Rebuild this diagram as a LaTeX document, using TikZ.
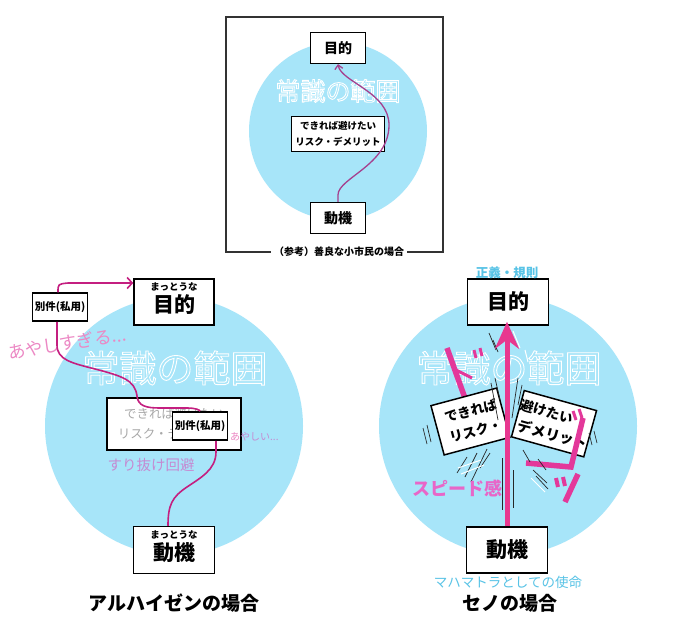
\documentclass[tikz,border=0pt]{standalone}
\usepackage{fontspec}
\setmainfont{Noto Sans CJK JP}
\usetikzlibrary{arrows.meta}
\definecolor{sky}{HTML}{A7E5F9}
\definecolor{framegray}{HTML}{333333}
\definecolor{purparrow}{HTML}{A5408E}
\definecolor{magline}{HTML}{C41F80}
\definecolor{hotpink}{HTML}{E8388F}
\definecolor{softpink}{HTML}{EC88C4}
\definecolor{lavender}{HTML}{C58AD2}
\definecolor{lightblue}{HTML}{58C3E6}
\definecolor{sfxpink}{HTML}{E3389A}
\definecolor{speedpink}{HTML}{E866C8}
\definecolor{fadegray}{HTML}{A8A8A8}
\newcommand{\hollowtxt}[1]{\special{pdf:literal direct 0.9 w 1 Tr}#1\special{pdf:literal direct 0 Tr}}
\tikzset{
  fnt/.style={font=\fontsize{#1}{#1}\selectfont},
  bfnt/.style={font=\bfseries\fontsize{#1}{#1}\selectfont},
  box/.style={draw=black, line width=1.5pt, fill=white, inner sep=0pt},
  scopetext/.style={text=white, inner sep=0pt, font=\fontsize{#1}{#1}\selectfont},
  toparrow/.style={draw=purparrow, line width=1.3pt, -{Straight Barb[length=4pt,width=8pt]}},
  magpath/.style={draw=magline, line width=1.6pt},
  sfx/.style={draw=sfxpink, line width=5.5pt},
  sfxthin/.style={draw=sfxpink, line width=3pt},
  speedb/.style={draw=black!85, line width=0.7pt},
  speedw/.style={draw=white, line width=1pt},
}
\begin{document}
\begin{tikzpicture}[x=1pt,y=-1pt]
\useasboundingbox (0,0) rectangle (680,632);
\fill[white] (0,0) rectangle (680,632);

% ---------- top panel ----------
\fill[sky] (338,131) circle[radius=89];
\node[scopetext=25] (tscope) at (338,91) {\hollowtxt{常識の範囲}};
\node[box, line width=1.2pt, minimum width=55, minimum height=31, bfnt=14] (tgoal) at (338,48) {目的};
\node[box, line width=1.2pt, minimum width=55, minimum height=31, bfnt=14] (tmot) at (338,218) {動機};
\node[box, line width=1.2pt, minimum width=93, minimum height=35, align=center, font=\bfseries\fontsize{9.5}{16}\selectfont] (trisk) at (338,134) {できれば避けたい\\リスク・デメリット};
\draw[toparrow] (tmot.north) -- ++(0,-7) .. controls (338,178) and (389,165) .. (389,125) .. controls (389,92) and (341,82) .. (tgoal.south);
\node[bfnt=10, inner sep=3pt] (tcap) at (339,252) {（参考）善良な小市民の場合};
\draw[framegray, line width=1.3pt] (tcap.west) -- (226,252) -- (226,17) -- (443,17) -- (443,252) -- (tcap.east);

% ---------- left panel ----------
\fill[sky] (174,426) circle[radius=129];
\node[scopetext=37] (lscope) at (175,368) {\hollowtxt{常識の範囲}};
\node[text=softpink, fnt=17.5, rotate=9, inner sep=0pt] (lsus) at (67,343) {あやしすぎる...};
\node[box, line width=1.6pt, minimum width=134, minimum height=52, text=fadegray, align=center, font=\fontsize{12.5}{20}\selectfont] (lrisk) at (174,424) {できれば避けたい\\リスク・デメリット};
\node[box, minimum width=80, minimum height=46] (lgoal) at (174,302) {};
\node[bfnt=9.5, inner sep=0pt] (lgoalr) at (174,287) {まっとうな};
\node[bfnt=21, inner sep=0pt] (lgoalt) at (174,305) {目的};
\node[box, minimum width=55, minimum height=28, bfnt=10.5] (lside1) at (60,307) {別件(私用)};
\node[box, minimum width=55, minimum height=28, bfnt=10.5] (lside2) at (200,426) {別件(私用)};
\node[box, minimum width=81, minimum height=47] (lmot) at (174,550) {};
\node[bfnt=9.5, inner sep=0pt] (lmotr) at (174,535) {まっとうな};
\node[bfnt=21, inner sep=0pt] (lmott) at (174,553) {動機};
\draw[magpath, -{Straight Barb[length=5pt,width=11pt]}] ([xshift=-2pt]lside1.north) .. controls (58,284) .. (68,283) -- (lgoal.west |- 0,283);
\draw[magpath] ([xshift=-3pt]lside1.south) -- (57,345) .. controls (57,360) and (72,363) .. (95,369) .. controls (122,376) and (135,380) .. (137,396) .. controls (138,406) and (146,408) .. (160,408) -- (187,408) .. controls (196,408) and (200,410) .. (lside2.north);
\draw[magpath] ([xshift=16pt]lside2.south) -- (216,452) .. controls (216,470) and (200,478) .. (187,487) .. controls (172,497) and (168,505) .. (lmot.north -| 168,0);
\node[text=lavender, fnt=14.5] (lslip) at (151,465) {すり抜け回避};
\node[anchor=west, fnt=10, inner sep=0pt] (lsus2) at (230,437) {\textcolor{softpink}{あ}\textcolor{lavender}{やしい...}};
\node[bfnt=19] (ltitle) at (174,603) {アルハイゼンの場合};

% ---------- right panel ----------
\fill[sky] (508,426) circle[radius=129];
\node[scopetext=37] (rscope) at (509,368) {\hollowtxt{常識の範囲}};
% "ド"
\draw[sfx] (447,348) -- (466,401);
\draw[sfxthin] (456,370) -- (472,378);
\draw[sfxthin] (474,350) -- (476,358);
\draw[sfxthin] (480,348) -- (482,356);
% broken risk box, left piece
\node[box, rotate=15, minimum width=68, minimum height=51] (rriskL) at (470.4,421.5) {};
\begin{scope}
  \clip (rriskL.north west) -- (rriskL.north east) -- (rriskL.south east) -- (rriskL.south west) -- cycle;
  \node[rotate=15, inner sep=0pt, align=left, text width=54, font=\bfseries\fontsize{13.3}{21}\selectfont] (rriskLt) at (474,420.6) {できれば\\リスク・};
\end{scope}
% broken risk box, right piece
\node[box, rotate=-15.5, minimum width=75, minimum height=48] (rriskR) at (554,423.7) {};
\begin{scope}
  \clip (rriskR.north west) -- (rriskR.north east) -- (rriskR.south east) -- (rriskR.south west) -- cycle;
  \node[rotate=-15.5, inner sep=0pt, bfnt=13.5] (rriskRa) at (547,411.4) {避けたい};
  \node[rotate=-15.5, inner sep=0pt, bfnt=14.4] (rriskRb) at (552.6,434.7) {デメリット};
\end{scope}
% "ゴ"
\draw[sfx, line join=miter] (583,418) -- (571,467) -- (526,463);
\draw[sfxthin] (573,411) -- (576,420);
\draw[sfxthin] (579,409) -- (582,418);
% "ッ"
\draw[sfxthin, line width=4pt] (556,478) -- (558,487);
\draw[sfxthin, line width=4pt] (563,477) -- (565,486);
\draw[sfx] (578,474) -- (565,502);
% speed lines
\draw[speedb] (489,333) -- (496,350);
\draw[speedb] (493,340) -- (498,352);
\draw[speedb] (491,383) -- (498,420);
\draw[speedb] (495,378) -- (500,400);
\draw[speedb] (518,378) -- (512,418);
\draw[speedb] (522,385) -- (518,405);
\draw[speedb] (427,425) -- (431,442);
\draw[speedb] (423,428) -- (427,444);
\draw[speedb] (589,433) -- (592,445);
\draw[speedb] (594,431) -- (597,443);
\draw[speedb] (457,473) -- (467,457);
\draw[speedb] (465,477) -- (477,453);
\draw[speedb] (471,482) -- (487,449);
\draw[speedb] (480,468) -- (490,453);
\draw[speedb] (523,450) -- (530,462);
\draw[speedb] (533,470) -- (547,483);
\draw[speedb] (536,476) -- (548,489);
\draw[speedb] (538,459) -- (546,470);
\draw[speedb] (502,458) -- (502,510);
\draw[speedb] (513,470) -- (513,508);
\draw[speedw] (458,468) -- (481,460);
\draw[speedw] (461,474) -- (484,465);
\draw[speedw] (531,478) -- (545,492);
\draw[speedw] (513,331) -- (520,348);
\draw[speedw] (525,350) -- (528,362);
\node[box, minimum width=81, minimum height=46, bfnt=21] (rgoal) at (508,302) {目的};
\node[box, minimum width=81, minimum height=46, bfnt=21] (rmot) at (507,550) {動機};
\draw[hotpink, line width=5pt, -{Stealth[length=27pt, width=24pt, inset=9pt]}] (rmot.north -| 507,0) -- ([yshift=4pt]rgoal.south -| 507,0);
\node[text=lightblue, bfnt=12.5] (rjust) at (507,273) {正義・規則};
\node[text=lightblue, fnt=13.5] (rmission) at (508,582) {マハマトラとしての使命};
\node[text=speedpink, bfnt=18] (rspeed) at (457,488) {スピード感};
\node[bfnt=19] (rtitle) at (510,603) {セノの場合};
\end{tikzpicture}
\end{document}
